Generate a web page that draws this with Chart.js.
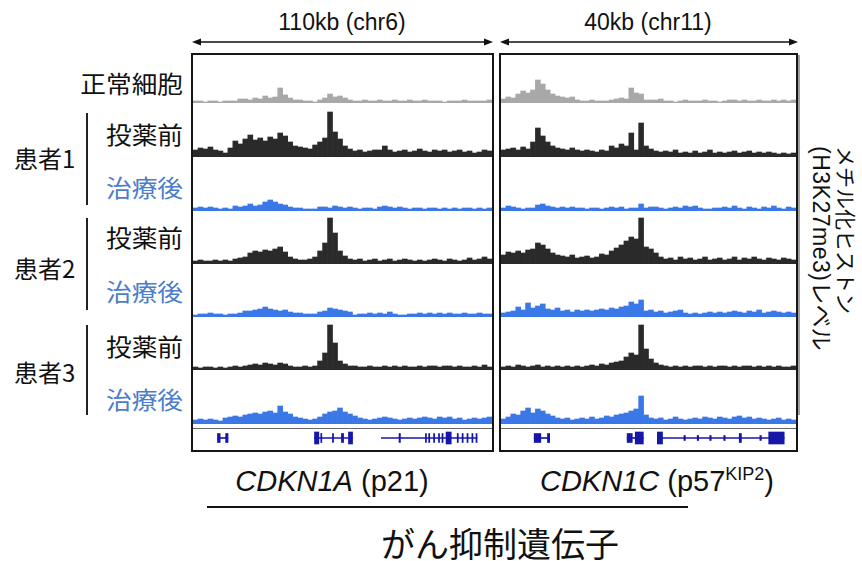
<!DOCTYPE html>
<html lang="ja">
<head>
<meta charset="UTF-8" />
<title>メチル化ヒストン (H3K27me3) レベル</title>
<script src="https://cdn.jsdelivr.net/npm/chart.js"></script>
<style>
  body { margin:0; width:862px; height:561px; background:#fff; position:relative; overflow:hidden;
         font-family:"Noto Sans CJK JP", sans-serif; color:#111; }
  .abs { position:absolute; white-space:nowrap; }
  .track { position:absolute; z-index:1; }
  .track canvas { display:block; }
  .box { position:absolute; border:2px solid #161616; box-sizing:border-box; z-index:2; }
  .row { position:absolute; left:0; width:183px; text-align:right; font-size:24px; line-height:30px;
         transform:scaleX(1.07); transform-origin:right center; }
  .blue { color:#4a7dcc; }
  .pat { position:absolute; left:14px; font-size:24px; line-height:30px; }
  .brk { position:absolute; left:86px; width:2px; background:#222; }
  .lat { font-family:"Liberation Sans", Arial, sans-serif; }
</style>
</head>
<body>
  <!-- header -->
  <div class="abs lat" style="left:242px; width:200px; top:8px; text-align:center; font-size:23px; line-height:28px;">110kb (chr6)</div>
  <div class="abs lat" style="left:548px; width:200px; top:8px; text-align:center; font-size:23px; line-height:28px;">40kb (chr11)</div>
  <svg class="abs" style="left:0; top:0;" width="862" height="60">
    <line x1="198" y1="42" x2="487" y2="42" stroke="#111" stroke-width="1.6"/>
    <polygon points="192,42 201,38.5 201,45.5" fill="#111"/>
    <polygon points="493,42 484,38.5 484,45.5" fill="#111"/>
    <line x1="506" y1="42" x2="792" y2="42" stroke="#111" stroke-width="1.6"/>
    <polygon points="500,42 509,38.5 509,45.5" fill="#111"/>
    <polygon points="798,42 789,38.5 789,45.5" fill="#111"/>
  </svg>

  <!-- row labels -->
  <div class="row" style="top:68px;">正常細胞</div>
  <div class="row" style="top:119px;">投薬前</div>
  <div class="row blue" style="top:172px;">治療後</div>
  <div class="row" style="top:222px;">投薬前</div>
  <div class="row blue" style="top:276px;">治療後</div>
  <div class="row" style="top:331px;">投薬前</div>
  <div class="row blue" style="top:384px;">治療後</div>
  <div class="pat" style="top:143px;">患者1</div>
  <div class="pat" style="top:253px;">患者2</div>
  <div class="pat" style="top:357px;">患者3</div>
  <div class="brk" style="top:113px; height:92px;"></div>
  <div class="brk" style="top:218px; height:92px;"></div>
  <div class="brk" style="top:325px; height:90px;"></div>

  <!-- panel frames -->
  <div class="box" style="left:191px; top:53px; width:303px; height:399px;"></div>
  <div class="box" style="left:499px; top:53px; width:299px; height:399px;"></div>
  <div class="abs" style="left:798px; top:55px; width:2px; height:360px; background:#a0a0a0;"></div>
  <div class="abs" style="left:193px; top:428px; width:299px; height:1px; background:#666; z-index:2;"></div>
  <div class="abs" style="left:501px; top:428px; width:295px; height:1px; background:#666; z-index:2;"></div>

  <!-- right axis label -->
  <div class="abs" style="left:859px; top:146px; transform-origin:0 0; transform:rotate(90deg); font-size:21px; line-height:24px;">メチル化ヒストン<br><span class="lat" style="font-size:23px; letter-spacing:0.5px;">(H3K27me3)</span><span style="font-size:23px;">レベル</span></div>

  <!-- bottom -->
  <div class="abs lat" style="left:182px; width:300px; top:464px; text-align:center; font-size:29px; line-height:34px;"><i>CDKN1A</i> (p21)</div>
  <div class="abs lat" style="left:507px; width:300px; top:464px; text-align:center; font-size:29px; line-height:34px;"><i>CDKN1C</i> (p57<span style="font-size:18px; position:relative; top:-11px;">KIP2</span>)</div>
  <div class="abs" style="left:207px; top:506px; width:481px; height:2px; background:#111;"></div>
  <div class="abs" style="left:350px; width:300px; top:523px; text-align:center; font-size:34px; line-height:40px;">がん抑制遺伝子</div>

<script>
// signal per bin (60 bins across each locus)
const normalL = [1,1,0,1,1,0,1,1,1, 3,3,2,4,3,6,4,5,14,7,4, 2,2,1,1,0,2, 4,8,5,6,4,2,
  1,1,2,1,1,2,1,1,2,1,1,2,1,1,2,1,1,1,0,1,1,1,2,1,1,1,1,2];
const p1preL = [6,8,7,9,6,5,3,8,15,12, 17,21,16,18,15,19,17,23,20,14, 10,9,8,7,11,14,18,44,24,17,
  10,7,5,6,4,5,6,6,10,6, 4,5,6,4,5,7,5,4,6,5, 6,4,5,6,4,5,3,4,6,5];
const p1postL = [2,3,2,3,2,1,2,1,4,3, 4,6,4,5,8,10,8,6,5,3, 2,2,1,1,1,3,3,2,4,3,
  2,3,2,1,2,2,1,3,4,3, 2,3,2,1,2,2,1,2,2,1, 2,1,2,1,2,2,1,2,1,2];
const p2preL = [2,3,2,2,3,2,3,2,4,5, 6,10,12,11,13,12,14,16,11,6, 4,3,3,4,6,12,20,45,30,12,
  7,4,3,4,2,3,4,2,3,4, 2,3,4,3,2,3,2,3,4,3, 2,4,3,2,3,5,3,4,6,4];
const p2postL = [1,2,2,3,2,2,1,2,2,3, 5,5,6,7,9,7,6,5,6,4, 3,3,2,2,2,4,5,8,7,6,
  5,4,1,2,2,3,2,3,2,4, 2,1,1,2,2,3,2,3,2,3, 2,3,2,2,3,2,2,3,2,2];
const p3preL = [2,1,2,2,1,2,1,2,3,2, 3,4,5,4,6,5,4,6,5,3, 2,2,3,2,3,8,16,44,26,8,
  5,3,3,2,2,3,2,2,3,2, 3,2,3,2,2,3,2,3,3,2, 3,3,2,3,2,2,3,2,4,2];
const p3postL = [3,4,3,4,3,2,5,6,7,6, 8,9,10,9,11,12,10,17,11,9, 6,5,4,3,4,6,9,11,12,15,
  11,9,7,5,4,3,4,5,6,5, 4,3,4,5,4,5,6,5,4,6, 5,6,4,5,3,4,5,4,5,6];

const normalR = [3,5,4,8,11,9,12,22,18,12, 8,6,5,4,5,2,1,1,2,1, 1,1,2,3,4,3,14,9,8,2,
  2,2,3,1,1,0,1,2,1,1, 1,2,1,1,0,1,2,2,1,2, 1,1,2,1,1,2,1,2,1,2];
const p1preR = [6,7,8,6,9,7,14,28,20,14, 10,8,7,6,8,6,5,6,5,4, 6,5,10,8,12,10,23,6,33,10,
  7,5,4,5,4,6,3,4,3,5, 3,4,6,3,4,3,4,5,3,4, 5,3,4,3,4,3,2,3,2,3];
const p1postR = [2,4,3,2,1,2,2,5,6,4, 3,2,3,2,3,2,2,1,2,2, 1,2,3,2,3,1,2,2,6,2,
  3,3,2,1,2,3,2,4,3,4, 2,1,1,2,2,3,2,4,2,1, 3,2,1,3,2,4,2,1,3,2];
const p2preR = [8,11,10,12,10,13,14,20,18,14, 10,8,7,6,8,5,6,7,5,6, 9,8,12,15,18,22,26,24,45,16,
  14,10,6,4,5,3,6,4,5,3, 4,6,3,4,5,3,4,6,3,5, 4,6,4,3,5,4,3,5,4,3];
const p2postR = [3,4,5,9,6,13,8,10,12,7, 6,8,5,6,4,6,5,6,5,6, 7,6,8,7,9,10,14,12,16,5,
  6,4,5,3,4,5,6,3,2,3, 2,3,4,3,4,3,4,5,4,3, 5,4,6,3,4,5,4,3,4,3];
const p3preR = [2,3,2,4,3,2,3,4,2,3, 2,3,2,3,2,3,2,3,4,3, 5,4,6,7,8,12,16,14,44,20,
  10,6,4,3,2,3,2,3,2,3, 3,2,3,2,3,3,2,3,2,3, 3,2,3,2,3,2,3,2,2,3];
const p3postR = [4,6,9,8,12,15,10,14,12,9, 7,5,4,5,3,4,5,4,6,4, 5,7,6,8,9,10,12,14,27,8,
  5,4,5,3,4,6,4,3,4,5, 4,6,5,4,6,5,4,6,7,5, 6,4,5,4,3,4,5,3,4,3];

// gene models, kb from the left edge of each locus
const spanL = 110, spanR = 40;
const intronL = [[9.2,12.8],[44.7,58.7],[69.3,104.5]];
const exonL = [[9.0,10.0],[12.0,12.9],[47.0,47.4],[51.3,51.7],[54.6,55.4],[75.8,76.3],[85.5,85.9],
  [86.7,87.1],[88.5,88.9],[90.3,90.7],[91.6,92.0],[97.2,97.6],[99.0,99.4],[100.8,101.2],[102.6,103.0],[104.1,104.5]];
const cdsL = [[44.7,46.3],[57.2,58.7],[93.1,95.0]];
const utrL = [];
const intronR = [[4.5,6.6],[17.1,19.3],[21.2,38.4]];
const exonR = [[4.5,5.4],[6.3,6.6],[17.1,17.8],[32.3,32.6]];
const cdsR = [[18.2,19.3],[21.2,21.9],[36.3,38.4]];
const utrR = [[24.8,25.0],[26.6,26.8],[28.3,28.5],[30.2,30.4],[35.1,35.3]];

const GRAY = '#a8a8a8', BLACK = '#2a2a2a', BLUE = '#3b78e7', GENE = '#1616a8';
const baselines = [102, 156, 210, 263, 316, 369, 423];
const TH = 51;

function drawTrack(left, width, base, values, color) {
  const div = document.createElement('div');
  div.className = 'track';
  div.style.left = left + 'px';
  div.style.top = (base - TH) + 'px';
  div.style.width = width + 'px';
  div.style.height = TH + 'px';
  div.style.borderBottom = '1px solid ' + color;
  const cv = document.createElement('canvas');
  cv.width = width; cv.height = TH;
  div.appendChild(cv);
  document.body.appendChild(div);
  new Chart(cv, {
    type: 'bar',
    data: {
      labels: values.map((_, i) => i),
      datasets: [{ data: values, backgroundColor: color, borderWidth: 0, barPercentage: 1, categoryPercentage: 1 }]
    },
    options: {
      animation: false, responsive: false,
      layout: { padding: 0 },
      plugins: { legend: { display: false }, tooltip: { enabled: false } },
      scales: { x: { display: false }, y: { display: false, min: 0, max: TH } }
    }
  });
}

function drawGenes(left, width, span, intron, utr, exon, cds) {
  const div = document.createElement('div');
  div.className = 'track';
  div.style.left = left + 'px';
  div.style.top = '430px';
  div.style.width = width + 'px';
  div.style.height = '16px';
  const cv = document.createElement('canvas');
  cv.width = width; cv.height = 16;
  div.appendChild(cv);
  document.body.appendChild(div);
  const ds = (arr, thick) => ({
    data: arr.map(r => ({ x: r, y: 'g' })), backgroundColor: GENE, borderWidth: 0,
    barThickness: thick, grouped: false, minBarLength: 1
  });
  new Chart(cv, {
    type: 'bar',
    data: { labels: ['g'], datasets: [ds(intron, 1), ds(utr, 5), ds(exon, 9), ds(cds, 12)] },
    options: {
      indexAxis: 'y', animation: false, responsive: false,
      layout: { padding: 0 },
      plugins: { legend: { display: false }, tooltip: { enabled: false } },
      scales: { x: { type: 'linear', min: 0, max: span, display: false }, y: { display: false } }
    }
  });
}

const leftTracks = [[normalL, GRAY], [p1preL, BLACK], [p1postL, BLUE], [p2preL, BLACK], [p2postL, BLUE], [p3preL, BLACK], [p3postL, BLUE]];
const rightTracks = [[normalR, GRAY], [p1preR, BLACK], [p1postR, BLUE], [p2preR, BLACK], [p2postR, BLUE], [p3preR, BLACK], [p3postR, BLUE]];
leftTracks.forEach(([v, c], i) => drawTrack(193, 299, baselines[i], v, c));
rightTracks.forEach(([v, c], i) => drawTrack(501, 295, baselines[i], v, c));
drawGenes(193, 299, spanL, intronL, utrL, exonL, cdsL);
drawGenes(501, 295, spanR, intronR, utrR, exonR, cdsR);
</script>
</body>
</html>
